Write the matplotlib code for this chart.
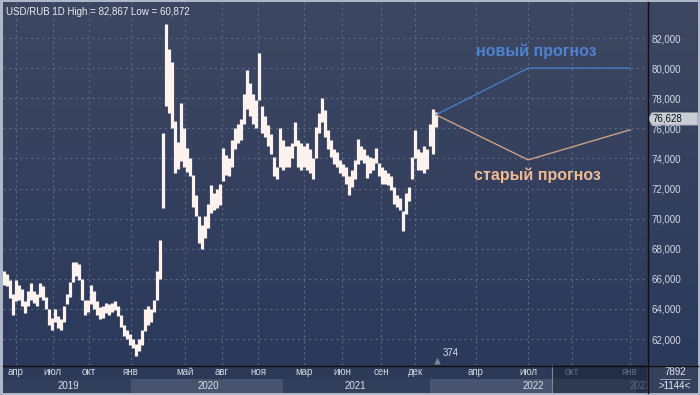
import numpy as np
import matplotlib
matplotlib.use('Agg')
import matplotlib.pyplot as plt
from matplotlib.ticker import FuncFormatter, FixedLocator
from matplotlib.patches import Polygon, Rectangle
import matplotlib.transforms as mtransforms

plt.rcParams['font.family'] = ['Liberation Sans', 'DejaVu Sans']

# ---------------- data (USD/RUB, ~weekly high/low ranges) ----------------
bar_low = [
    65.6, 65.5, 64.7, 63.6, 64.5, 64.6, 64.2, 63.7, 64.2, 64.6,
    64.4, 64.2, 64.8, 64.6, 64.0, 62.9, 62.6, 63.1, 62.7, 62.6,
    63.1, 64.3, 64.8, 65.8, 66.2, 65.9, 64.6, 63.6, 63.8, 64.3,
    64.0, 63.6, 63.3, 63.4, 63.7, 63.6, 63.8, 63.9, 63.5, 62.8,
    62.2, 62.0, 61.6, 61.4, 60.9, 61.2, 61.6, 62.5, 62.9, 63.1,
    63.8, 64.6, 66.0, 70.7, 77.5, 77.0, 76.0, 73.0, 73.3, 73.8,
    73.4, 73.1, 72.8, 70.8, 70.2, 68.4, 68.0, 68.7, 69.4, 70.4,
    70.6, 70.7, 70.9, 72.5, 72.9, 72.8, 73.4, 74.6, 75.0, 75.2,
    76.3, 77.3, 76.8, 76.3, 76.0, 77.9, 75.7, 75.4, 74.8, 74.3,
    72.8, 72.6, 73.4, 73.2, 73.4, 73.4, 74.0, 74.8, 73.4, 73.2,
    73.4, 73.2, 73.0, 72.6, 74.0, 75.7, 76.4, 75.4, 74.6, 74.1,
    73.6, 73.4, 73.0, 72.8, 72.3, 71.6, 72.1, 72.6, 73.6, 73.9,
    73.7, 72.7, 73.0, 73.2, 73.7, 72.8, 72.3, 72.3, 72.2, 71.9,
    71.0, 70.8, 70.6, 69.2, 70.3, 71.2, 72.6, 74.0, 73.2, 73.2,
    73.0, 73.3, 74.8, 74.3, 76.1,
]
bar_high = [
    66.5, 66.3, 65.9, 65.0, 65.9, 65.6, 65.3, 64.5, 65.2, 65.7,
    65.2, 65.0, 65.7, 65.5, 64.8, 64.0, 63.4, 64.0, 63.5, 63.3,
    64.2, 65.0, 65.8, 67.1, 67.1, 67.0, 66.0, 64.6, 64.6, 65.6,
    65.2, 64.5, 64.1, 64.2, 64.4, 64.3, 64.4, 64.5, 64.2, 63.6,
    62.9, 62.6, 62.3, 62.0, 61.7, 62.0, 62.6, 64.0, 64.2, 64.0,
    64.6, 66.5, 68.6, 75.7, 82.9, 81.3, 80.4, 76.5, 75.1, 77.7,
    76.0, 74.7, 74.0, 72.9, 71.6, 70.2, 69.6, 70.2, 71.0, 72.2,
    71.7, 72.0, 72.3, 74.7, 74.2, 74.0, 75.2, 76.0, 76.3, 76.6,
    78.3, 79.9, 79.0, 78.3, 77.9, 81.0, 77.5, 76.8, 76.2, 75.6,
    74.1, 73.4, 76.0, 75.2, 74.8, 74.8, 75.0, 76.4, 75.2, 75.0,
    74.8, 75.0, 74.6, 74.0, 76.1, 77.0, 78.0, 77.2, 75.9, 75.2,
    74.6, 74.4, 73.9, 73.6, 73.4, 72.8, 73.2, 73.9, 75.3, 74.8,
    74.6, 74.2, 74.1, 74.0, 74.7, 73.7, 73.4, 73.2, 73.0, 72.8,
    72.1, 71.6, 71.4, 70.5, 71.7, 72.1, 74.1, 75.9, 74.6, 74.4,
    74.8, 74.6, 76.3, 77.3, 77.1,
]

month_labels = ['апр', 'июл', 'окт', 'янв', 'май', 'авг', 'ноя', 'мар',
                'июн', 'сен', 'дек', 'апр', 'июл', 'окт', 'янв']
month_pos = [4.0, 16.3, 28.3, 42.3, 60.3, 72.7, 84.7, 100.0,
             112.7, 125.7, 137.0, 157.3, 174.7, 189.3, 208.7]
year_labels = ['2019', '2020', '2021', '2022', '2023']
year_pos = [21.3, 68.0, 117.0, 176.3, 212.0]
year_band_start = [42.3, 142.0]
year_band_end = [93.0, 210.7]

forecast_pos = [144.0, 174.7, 208.7]
new_forecast = [76.9, 80.0, 80.0]
old_forecast = [76.9, 73.9, 75.9]

last_price = 76.628
y_ticks = [62, 64, 66, 68, 70, 72, 74, 76, 78, 80, 82]

# ---------------- figure ----------------
W, H = 700, 395
fig = plt.figure(figsize=(W / 100, H / 100), dpi=100)
fig.patch.set_facecolor('#aeb7c8')


def px_axes(l, t, r, b):
    return fig.add_axes([l / W, 1 - b / H, (r - l) / W, (b - t) / H])


XL = (-0.333, 214.33)
YL = (82 - (365 - 38) / 15.05, 82 + 36 / 15.05)

# background gradient behind plot + price panel
bg = px_axes(3, 2, 698, 365)
bg.set_zorder(-2)
grad = np.linspace(0, 1, 256).reshape(-1, 1)
top = np.array([0x3d, 0x47, 0x61]) / 255
bot = np.array([0x2b, 0x39, 0x5b]) / 255
img = top[None, None, :] * (1 - grad[..., None]) + bot[None, None, :] * grad[..., None]
bg.imshow(img, aspect='auto', extent=[0, 1, 0, 1], origin='upper')
bg.set_xlim(0, 1)
bg.set_ylim(0, 1)
bg.axis('off')

# price panel (for marker)
panel = px_axes(647, 2, 698, 365)
panel.set_zorder(0)
panel.patch.set_visible(False)
panel.set_xlim(0, 51)
panel.set_ylim(*YL)
panel.axis('off')
h = 0.42
panel.add_patch(Polygon([[1, last_price], [5, last_price + h], [51, last_price + h],
                         [51, last_price - h], [5, last_price - h]],
                        closed=True, facecolor='#c9cdd6', edgecolor='#8a90a0', lw=0.6, zorder=5))
panel.text(5.5, last_price, f"{last_price:.3f}".replace('.', ','), fontsize=7,
           color='#111111', va='center', ha='left', zorder=6)

# main axes
ax = px_axes(3, 2, 647, 365)
ax.set_zorder(1)
ax.patch.set_visible(False)
ax.set_xlim(*XL)
ax.set_ylim(*YL)
for s in ax.spines.values():
    s.set_visible(False)

x = np.arange(len(bar_low))
ax.vlines(x, bar_low, bar_high, colors='#fdf2ee', linewidth=2.3, zorder=3)

ax.plot(forecast_pos, new_forecast, color='#4a7cc6', lw=1.0, zorder=4)
ax.plot(forecast_pos, old_forecast, color='#c9a184', lw=1.0, zorder=4)

ax.text(177.3, 81.15, 'новый прогноз', color='#4f82cf', fontsize=11.5,
        fontweight='bold', ha='center', va='center', zorder=5)
ax.text(177.7, 72.85, 'старый прогноз', color='#efbb92', fontsize=11.5,
        fontweight='bold', ha='center', va='center', zorder=5)

ax.yaxis.tick_right()
ax.yaxis.set_major_locator(FixedLocator(y_ticks))
ax.yaxis.set_major_formatter(FuncFormatter(lambda v, p: f"{v:.3f}".replace('.', ',')))
ax.tick_params(axis='y', length=0, pad=3, labelsize=7, labelcolor='#d2d8e4')
ax.xaxis.set_major_locator(FixedLocator(month_pos))
ax.tick_params(axis='x', length=0, labelbottom=False)
ax.grid(True, color='#5c6885', linestyle=(0, (2, 3)), linewidth=0.8, zorder=1)
ax.set_axisbelow(True)

ax.text(0.004, 0.985, 'USD/RUB 1D High = 82,867 Low = 60,872', transform=ax.transAxes,
        fontsize=7, color='#e8ecf4', ha='left', va='top')

trans = mtransforms.blended_transform_factory(ax.transData, ax.transAxes)
ax.plot([144.2], [0.012], marker='^', color='#7a8296', markersize=3.5, transform=trans,
        clip_on=False, zorder=5)
ax.text(146.3, 0.018, '374', transform=trans, fontsize=7, color='#d8dce6',
        ha='left', va='bottom')

# bottom time strip
strip = px_axes(3, 365, 647, 393)
strip.set_xlim(*XL)
strip.set_ylim(0, 1)
strip.set_facecolor('#2d3a57')
strip.set_xticks([])
strip.set_yticks([])
for s in strip.spines.values():
    s.set_visible(False)
strip.add_patch(Rectangle((XL[0], 0), XL[1] - XL[0], 0.5, facecolor='#323f5c', lw=0))
for a, b in zip(year_band_start, year_band_end):
    strip.add_patch(Rectangle((a, 0), b - a, 0.5, facecolor='#48546f', lw=0))
dark_start = 182.7
strip.add_patch(Rectangle((dark_start, 0), XL[1] - dark_start, 1, facecolor='#1c2438',
                          alpha=0.55, lw=0, zorder=3))
strip.axvline(dark_start, color='#7a8499', lw=0.8, zorder=4)
for lab, p in zip(month_labels, month_pos):
    c = '#5f6981' if p > dark_start else '#cfd5e1'
    strip.text(p, 0.74, lab, fontsize=7, color=c, ha='center', va='center', zorder=5)
for lab, p in zip(year_labels, year_pos):
    c = '#5f6981' if p > dark_start else '#d8dde8'
    strip.text(p, 0.24, lab, fontsize=7, color=c, ha='center', va='center', zorder=5,
               clip_on=True)

# bottom-right info box
box = px_axes(647, 365, 698, 393)
box.set_facecolor('#34405c')
box.set_xlim(0, 1)
box.set_ylim(0, 1)
box.set_xticks([])
box.set_yticks([])
for s in box.spines.values():
    s.set_visible(False)
box.text(0.55, 0.76, '7892', fontsize=7, color='#e8ecf4', ha='center', va='center')
box.plot([0.25, 0.85], [0.5, 0.5], color='#aab2c4', lw=0.6)
box.text(0.55, 0.25, '>1144<', fontsize=7, color='#e8ecf4', ha='center', va='center')

# separators
fig.add_artist(plt.Line2D([647.5 / W, 647.5 / W], [1 - 393 / H, 1 - 2 / H], color='#0d0f14',
                          lw=1.0, transform=fig.transFigure))
fig.add_artist(plt.Line2D([3 / W, 698 / W], [1 - 365.5 / H, 1 - 365.5 / H], color='#0d0f14',
                          lw=1.0, transform=fig.transFigure))

fig.savefig('out.png', dpi=100, facecolor=fig.get_facecolor())
